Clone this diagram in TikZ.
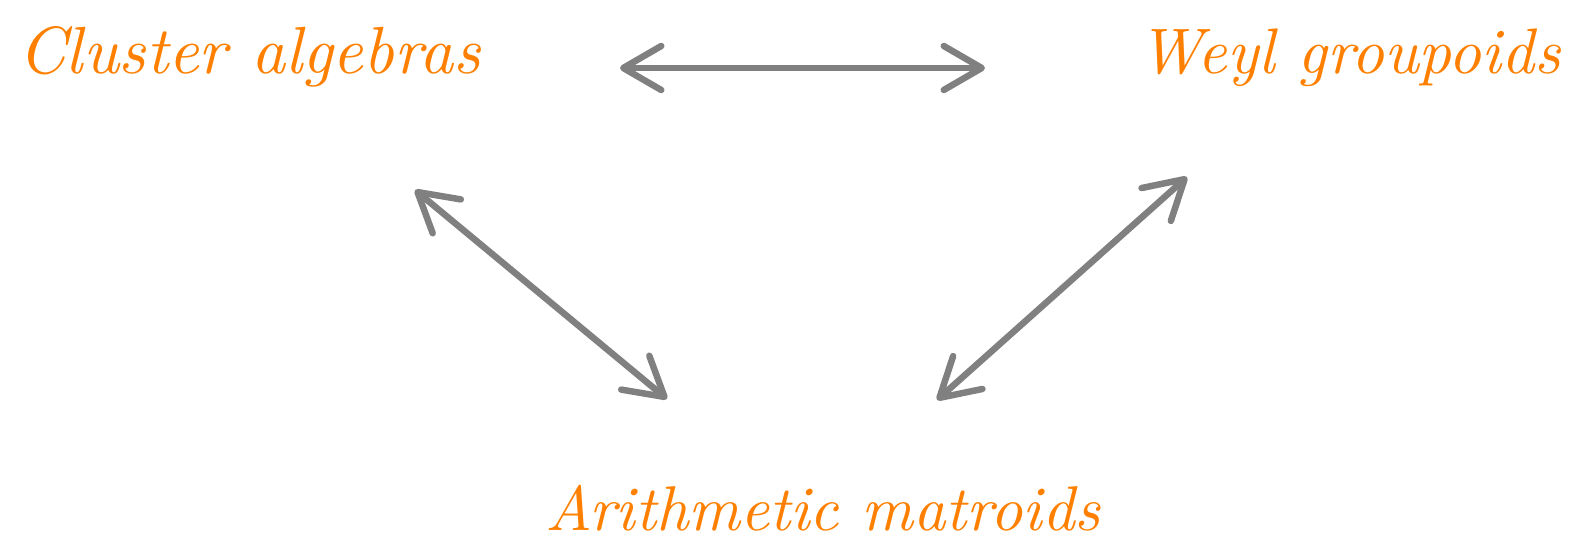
\documentclass[tikz,border=0pt]{standalone}
\usepackage{graphicx}
\usetikzlibrary{arrows.meta}
\definecolor{hand}{RGB}{255,128,0}
\definecolor{arr}{RGB}{128,128,128}
\tikzset{
  lbl/.style={inner sep=0pt, text=hand, font=\itshape},
  dbl/.style={draw=arr, line width=6.5pt, line cap=round,
    {Straight Barb[length=38pt,width=44pt,round]}-{Straight Barb[length=38pt,width=44pt,round]}}
}
\begin{document}
\begin{tikzpicture}[x=1pt,y=-1pt]
\useasboundingbox (0,0) rectangle (1578,556);
\node[lbl, anchor=base west] (ca) at (18,74) {\resizebox{462pt}{!}{Cluster algebras}};
\node[lbl, anchor=base west] (wg) at (1138,74) {\resizebox{422pt}{!}{Weyl groupoids}};
\node[lbl, anchor=base west] (am) at (545,530) {\resizebox{555pt}{!}{Arithmetic matroids}};
\coordinate (t1) at (620,68);
\coordinate (t2) at (985,68);
\coordinate (l1) at (415,190);
\coordinate (l2) at (667,399);
\coordinate (r1) at (1187,177);
\coordinate (r2) at (937,400);
\draw[dbl] (t1) -- (t2);
\draw[dbl] (l1) -- (l2);
\draw[dbl] (r1) -- (r2);
\end{tikzpicture}
\end{document}
